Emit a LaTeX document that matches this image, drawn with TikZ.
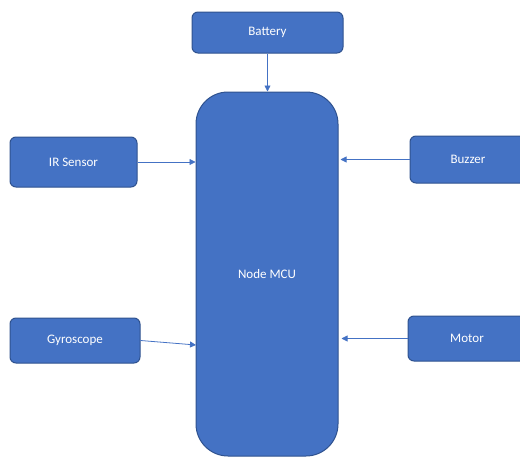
\documentclass[tikz,border=0pt]{standalone}
\usepackage{fontspec}
\setmainfont{Carlito}
\usetikzlibrary{arrows.meta}
\definecolor{boxblue}{HTML}{4472C4}
\definecolor{edgeblue}{HTML}{2F528F}
\begin{document}
\begin{tikzpicture}[x=1pt,y=-1pt,
  block/.style={rectangle, rounded corners=6pt, draw=edgeblue, line width=1pt,
    fill=boxblue, text=white, font=\fontsize{13}{15}\selectfont},
  link/.style={draw=boxblue, line width=0.8pt, -{Triangle[width=6pt,length=6pt]}}]
  \useasboundingbox (0,0) rectangle (520,458);
  \node[block, minimum width=151pt, minimum height=41pt] (battery) at (267.5,32.5) {Battery};
  \node[block, rounded corners=32pt, minimum width=142pt, minimum height=364pt] (mcu) at (267,274) {Node MCU};
  \node[block, minimum width=127pt, minimum height=50pt] (ir) at (73.5,162) {IR Sensor};
  \node[block, minimum width=130pt, minimum height=45pt] (gyro) at (75,340.5) {Gyroscope};
  \node[block, minimum width=116pt, minimum height=47pt] (buzzer) at (468,159.5) {Buzzer};
  \node[block, minimum width=118pt, minimum height=45pt] (motor) at (467,338.5) {Motor};
  \coordinate (gyro-in) at (196,345);
  \draw[link] (battery.south) -- (battery.south |- mcu.north);
  \draw[link] (ir.east) -- (ir.east -| mcu.west);
  \draw[link] (gyro.east) -- (gyro-in);
  \draw[link, shorten >=2pt] (buzzer.west) -- (buzzer.west -| mcu.east);
  \draw[link, shorten >=3pt] (motor.west) -- (motor.west -| mcu.east);
\end{tikzpicture}
\end{document}
